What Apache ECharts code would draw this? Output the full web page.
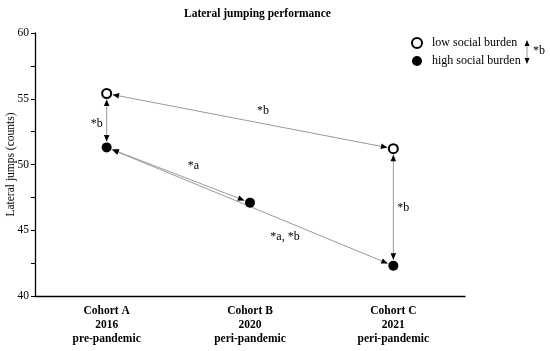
<!DOCTYPE html>
<html><head><meta charset="utf-8">
<script src="https://cdn.jsdelivr.net/npm/echarts@6/dist/echarts.min.js"></script>
<style>html,body{margin:0;padding:0;background:#fff}#c{width:550px;height:351px}</style>
</head><body><div id="c"></div>
<script>
// ---- data ----
const cohorts = ['Cohort A', 'Cohort B', 'Cohort C'];
const years = ['2016', '2020', '2021'];
const periods = ['pre-pandemic', 'peri-pandemic', 'peri-pandemic'];
const lowBurden = [55.4, null, 51.2];
const highBurden = [51.3, 47.1, 42.3];
const yTicks = [40, 45, 50, 55, 60];
// comparisons: [fromCohortIndex, fromGroup, toCohortIndex, toGroup, label]
const comparisons = [
  [0, 'low', 2, 'low', '*b'],
  [0, 'low', 0, 'high', '*b'],
  [0, 'high', 1, 'high', '*a'],
  [0, 'high', 2, 'high', '*a, *b'],
  [2, 'low', 2, 'high', '*b']
];
// ---- styling / layout ----
const labelOffsets = [[13, -10], [-10, 3], [15, -9], [35, 30], [10, 1]];
const FONT = 'Liberation Serif';
const groupVal = { low: lowBurden, high: highBurden };
const arrowData = comparisons.map(c => [c[0], groupVal[c[1]][c[0]], c[2], groupVal[c[3]][c[2]]]);

const chart = echarts.init(document.getElementById('c'), null, { renderer: 'canvas' });

function arrowHead(tip, dir, len, half) {
  const nx = -dir[1], ny = dir[0];
  const bx = tip[0] - dir[0] * len, by = tip[1] - dir[1] * len;
  return [[tip[0], tip[1]], [bx + nx * half, by + ny * half], [bx - nx * half, by - ny * half]];
}

chart.setOption({
  animation: false,
  title: {
    text: 'Lateral jumping performance', left: 179, top: 3,
    textStyle: { fontFamily: FONT, fontSize: 11.5, fontWeight: 'bold', color: '#000' }
  },
  legend: {
    orient: 'vertical', left: 406, top: 32, itemWidth: 10, itemHeight: 10, itemGap: 6,
    textStyle: { fontFamily: FONT, fontSize: 12, color: '#000', padding: [0, 0, 0, 5] },
    data: ['low social burden', 'high social burden']
  },
  grid: { left: 35, right: 85, top: 33, bottom: 55, containLabel: false, outerBoundsMode: 'none' },
  xAxis: {
    type: 'category', data: cohorts, boundaryGap: true,
    axisLine: { lineStyle: { color: '#000', width: 1.3 } },
    axisTick: { alignWithLabel: true, length: 4, lineStyle: { color: '#000' } },
    axisLabel: {
      margin: 8, color: '#000', fontFamily: FONT, fontSize: 11.5, fontWeight: 'bold', lineHeight: 14,
      formatter: (v, i) => v + '\n' + years[i] + '\n' + periods[i]
    }
  },
  yAxis: {
    type: 'value', min: yTicks[0], max: yTicks[yTicks.length - 1], interval: 5,
    name: 'Lateral jumps (counts)', nameLocation: 'middle', nameGap: 18, nameMoveOverlap: false,
    nameTextStyle: { fontFamily: FONT, fontSize: 11.5, color: '#000' },
    axisLine: { show: true, lineStyle: { color: '#000', width: 1.3 } },
    axisTick: { show: true, length: 4, lineStyle: { color: '#000' } },
    minorTick: { show: true, splitNumber: 2, length: 4, lineStyle: { color: '#000' } },
    splitLine: { show: false },
    axisLabel: { margin: 6, color: '#000', fontFamily: FONT, fontSize: 11.5 }
  },
  graphic: [
    { type: 'line', shape: { x1: 527, y1: 46, x2: 527, y2: 58 }, style: { stroke: '#999', lineWidth: 1 } },
    { type: 'polygon', shape: { points: [[527, 40], [524.5, 46], [529.5, 46]] }, style: { fill: '#000' } },
    { type: 'polygon', shape: { points: [[527, 64], [524.5, 58], [529.5, 58]] }, style: { fill: '#000' } },
    { type: 'text', left: 533, top: 45, style: { text: '*b', font: '12px ' + FONT, fill: '#000' } }
  ],
  series: [
    {
      type: 'custom', name: 'comparisons', coordinateSystem: 'cartesian2d', clip: false, z: 1,
      data: arrowData, silent: true,
      renderItem: function (params, api) {
        const p1 = api.coord([api.value(0), api.value(1)]);
        const p2 = api.coord([api.value(2), api.value(3)]);
        const dx = p2[0] - p1[0], dy = p2[1] - p1[1];
        const L = Math.sqrt(dx * dx + dy * dy);
        const d = [dx / L, dy / L];
        const r = 6;
        const a = [p1[0] + d[0] * r, p1[1] + d[1] * r];
        const b = [p2[0] - d[0] * r, p2[1] - d[1] * r];
        const off = labelOffsets[params.dataIndex];
        const mid = [(p1[0] + p2[0]) / 2 + off[0], (p1[1] + p2[1]) / 2 + off[1]];
        return {
          type: 'group', children: [
            { type: 'line', shape: { x1: a[0], y1: a[1], x2: b[0], y2: b[1] }, style: { stroke: '#999', lineWidth: 1 } },
            { type: 'polygon', shape: { points: arrowHead(a, [-d[0], -d[1]], 6.5, 2.8) }, style: { fill: '#000' } },
            { type: 'polygon', shape: { points: arrowHead(b, d, 6.5, 2.8) }, style: { fill: '#000' } },
            { type: 'text', x: mid[0], y: mid[1], style: { text: comparisons[params.dataIndex][4], font: '12px ' + FONT, fill: '#000', align: 'center', verticalAlign: 'middle' } }
          ]
        };
      }
    },
    {
      type: 'scatter', name: 'low social burden', z: 3,
      data: lowBurden.map(v => v == null ? '-' : v),
      symbol: 'circle', symbolSize: 9,
      itemStyle: { color: '#fff', borderColor: '#000', borderWidth: 2, opacity: 1 }
    },
    {
      type: 'scatter', name: 'high social burden', z: 3,
      data: highBurden,
      symbol: 'circle', symbolSize: 10,
      itemStyle: { color: '#000', borderColor: '#000', borderWidth: 0, opacity: 1 }
    }
  ]
});
</script>
</body></html>
